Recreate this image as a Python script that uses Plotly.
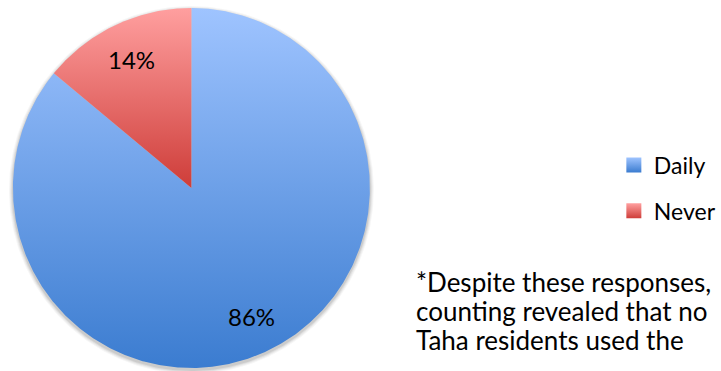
import numpy as np
import plotly.graph_objects as go

# Survey responses: how often the service is used
categories = ["Daily", "Never"]
shares = [86, 14]

# Vertical gradient (bottom, top) for each slice
slice_bottom = ["#3B7CD0", "#CE3D39"]
slice_top = ["#9FC4FF", "#FF9F9F"]

note_lines = [
    "*Despite these responses,",
    "counting revealed that no",
    "Taha residents used the",
]

W, H = 721, 371
CX, CY, R = 193.0, 188.0, 180.0      # pie centre / radius in pixels
FONT = "Lato"

fig = go.Figure()

# soft drop shadow below the pie
theta_full = np.linspace(0, 2 * np.pi, 361)
for k, a in [(4, 0.035), (3, 0.045), (2, 0.06), (1, 0.08)]:
    rr = 1 + k / R
    fig.add_trace(go.Scatter(
        x=rr * np.sin(theta_full), y=rr * np.cos(theta_full) - 2.0 / R,
        mode="lines", line=dict(width=0), fill="toself",
        fillcolor=f"rgba(0,0,0,{a})", hoverinfo="skip", showlegend=False))

# slices, clockwise from 12 o'clock
total = float(sum(shares))
start = 0.0
label_pos = []
for name, v, cb, ct in zip(categories, shares, slice_bottom, slice_top):
    frac = v / total
    a0, a1 = start * 2 * np.pi, (start + frac) * 2 * np.pi
    n = max(int(frac * 720), 4)
    th = np.linspace(a0, a1, n)
    xs = np.concatenate([[0.0], np.sin(th), [0.0]])
    ys = np.concatenate([[0.0], np.cos(th), [0.0]])
    fig.add_trace(go.Scatter(
        x=xs, y=ys, mode="lines", line=dict(width=0), fill="toself",
        fillgradient=dict(type="vertical", colorscale=[[0, cb], [1, ct]]),
        name=name, hoverinfo="skip", showlegend=False))
    mid = (a0 + a1) / 2
    label_pos.append((0.79 * np.sin(mid), 0.79 * np.cos(mid), f"{v / total * 100:.0f}%"))
    start += frac

# legend entries
for name, cb, ct in zip(categories, slice_bottom, slice_top):
    fig.add_trace(go.Scatter(
        x=[None], y=[None], mode="markers", name=name, legendgroup=name,
        marker=dict(symbol="square", size=15, color=ct,
                    gradient=dict(type="vertical", color=cb))))

for x, y, t in label_pos:
    fig.add_annotation(x=x, y=y, xref="x", yref="y", text=t, showarrow=False,
                       font=dict(family=FONT, size=24, color="#000000"))

line_centres = [281.5, 310.5, 339.5]
for t, py in zip(note_lines, line_centres):
    fig.add_annotation(x=417 / W, y=1 - py / H, xref="paper", yref="paper",
                       xanchor="left", yanchor="middle", text=t, showarrow=False,
                       font=dict(family=FONT, size=26, color="#000000"))

fig.update_layout(
    width=W, height=H, margin=dict(l=0, r=0, t=0, b=0),
    paper_bgcolor="white", plot_bgcolor="white",
    xaxis=dict(range=[-CX / R, (W - CX) / R], visible=False, fixedrange=True),
    yaxis=dict(range=[-(H - CY) / R, CY / R], visible=False, fixedrange=True),
    showlegend=True,
    legend=dict(x=619 / W, y=1 - 188 / H, xanchor="left", yanchor="middle",
                font=dict(family=FONT, size=23, color="#000000"),
                bgcolor="rgba(0,0,0,0)", itemsizing="trace", tracegroupgap=13),
)

fig.write_html("out.html")
